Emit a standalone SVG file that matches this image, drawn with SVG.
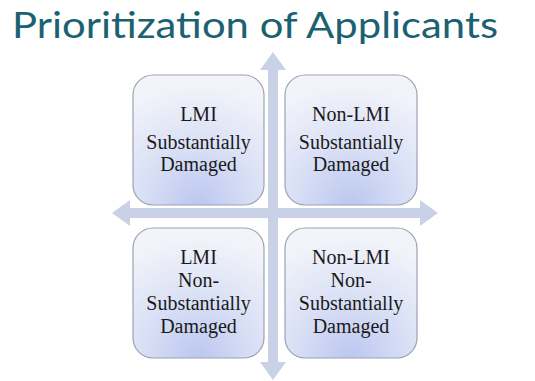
<svg xmlns="http://www.w3.org/2000/svg" width="535" height="381" viewBox="0 0 535 381">
<defs>
<radialGradient id="g" cx="0.5" cy="0.95" r="0.9" fx="0.5" fy="1">
<stop offset="0" stop-color="#bcc7f0"/>
<stop offset="0.55" stop-color="#dde3f6"/>
<stop offset="1" stop-color="#f3f4fa"/>
</radialGradient>
<style>
.box{fill:url(#g);stroke:#9aa2b4;stroke-width:1.2}
.t{font-family:"Liberation Serif","DejaVu Serif",serif;font-size:20px;fill:#1a1a1a;text-anchor:middle}
.ax{fill:#c9d1e6}
</style>
</defs>
<rect width="535" height="381" fill="#ffffff"/>
<text x="12" y="38" font-family="Lato, 'Liberation Sans', sans-serif" font-size="37" fill="#1c6172" textLength="486" lengthAdjust="spacingAndGlyphs">Prioritization of Applicants</text>
<g id="connectors">
<polygon class="ax" points="273,52 286,70 278,70 278,208 420,208 420,200 438,213 420,226 420,218 278,218 278,362 286,362 273,380 260,362 268,362 268,218 130,218 130,226 112,213 130,200 130,208 268,208 268,70 260,70"/>
</g>
<g id="n1">
<rect class="box" x="133" y="75" width="131" height="130" rx="20"/>
<text class="t" x="198.5" y="121">LMI</text>
<text class="t" x="198.5" y="149">Substantially</text>
<text class="t" x="198.5" y="171">Damaged</text>
</g>
<g id="n2">
<rect class="box" x="285" y="75" width="132" height="130" rx="20"/>
<text class="t" x="351" y="121">Non-LMI</text>
<text class="t" x="351" y="149">Substantially</text>
<text class="t" x="351" y="171">Damaged</text>
</g>
<g id="n3">
<rect class="box" x="133" y="228" width="131" height="130" rx="20"/>
<text class="t" x="198.5" y="264">LMI</text>
<text class="t" x="198.5" y="287">Non-</text>
<text class="t" x="198.5" y="310">Substantially</text>
<text class="t" x="198.5" y="333">Damaged</text>
</g>
<g id="n4">
<rect class="box" x="285" y="228" width="132" height="130" rx="20"/>
<text class="t" x="351" y="264">Non-LMI</text>
<text class="t" x="351" y="287">Non-</text>
<text class="t" x="351" y="310">Substantially</text>
<text class="t" x="351" y="333">Damaged</text>
</g>
</svg>
